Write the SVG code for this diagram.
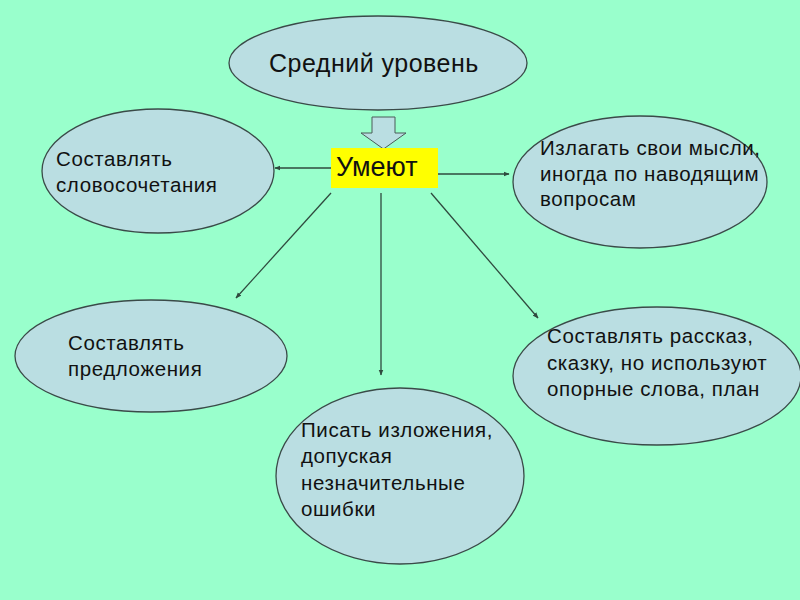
<svg xmlns="http://www.w3.org/2000/svg" width="800" height="600" viewBox="0 0 800 600">
<defs>
<style>
.ell{fill:#BADEE2;stroke:#3a4a48;stroke-width:1.3}
.t{font-family:"Liberation Sans",Arial,sans-serif;font-size:20.5px;letter-spacing:0.6px;fill:#111}
.con{stroke:#2f4a3e;stroke-width:1.3;fill:none;marker-end:url(#ah)}
</style>
<marker id="ah" viewBox="0 0 10 10" refX="9" refY="5" markerWidth="6" markerHeight="6" orient="auto" markerUnits="userSpaceOnUse">
<path d="M0,1 L10,5 L0,9 z" fill="#2f4a3e"/>
</marker>
</defs>
<rect width="800" height="600" fill="#99FFCC"/>
<g id="connectors">
<line class="con" x1="331" y1="168" x2="275" y2="168"/>
<line class="con" x1="438" y1="174" x2="509" y2="174"/>
<line class="con" x1="331" y1="193" x2="236" y2="298"/>
<line class="con" x1="381" y1="193" x2="381" y2="375"/>
<line class="con" x1="431" y1="193" x2="538" y2="318"/>
<path d="M372,117 H395 V133 H406 L383.5,149 L361,133 H372 Z" fill="#BADEE2" stroke="#4a5a58" stroke-width="1"/>
</g>
<g id="top">
<ellipse class="ell" cx="378" cy="63" rx="149" ry="47"/>
<text class="t" x="269" y="72" style="font-size:25px;letter-spacing:0.5px">Средний уровень</text>
</g>
<g id="center">
<rect x="331" y="148" width="107" height="40" fill="#FFFF00"/>
<text class="t" x="336" y="176" style="font-size:27px;letter-spacing:0">Умеют</text>
</g>
<g id="left">
<ellipse class="ell" cx="158" cy="171" rx="116" ry="62"/>
<text class="t" x="56" y="166">Составлять</text>
<text class="t" x="56" y="192">словосочетания</text>
</g>
<g id="right">
<ellipse class="ell" cx="640" cy="182" rx="127" ry="66"/>
<text class="t" x="540" y="155">Излагать свои мысли,</text>
<text class="t" x="540" y="181">иногда по наводящим</text>
<text class="t" x="540" y="206">вопросам</text>
</g>
<g id="lowleft">
<ellipse class="ell" cx="151" cy="356" rx="136" ry="56"/>
<text class="t" x="68" y="350">Составлять</text>
<text class="t" x="68" y="376">предложения</text>
</g>
<g id="bottom">
<ellipse class="ell" cx="400" cy="476" rx="124" ry="88"/>
<text class="t" x="301" y="437">Писать изложения,</text>
<text class="t" x="301" y="463">допуская</text>
<text class="t" x="301" y="490">незначительные</text>
<text class="t" x="301" y="516">ошибки</text>
</g>
<g id="lowright">
<ellipse class="ell" cx="657" cy="376" rx="144" ry="69"/>
<text class="t" x="547" y="343">Составлять рассказ,</text>
<text class="t" x="547" y="370">сказку, но используют</text>
<text class="t" x="547" y="396">опорные слова, план</text>
</g>
</svg>
